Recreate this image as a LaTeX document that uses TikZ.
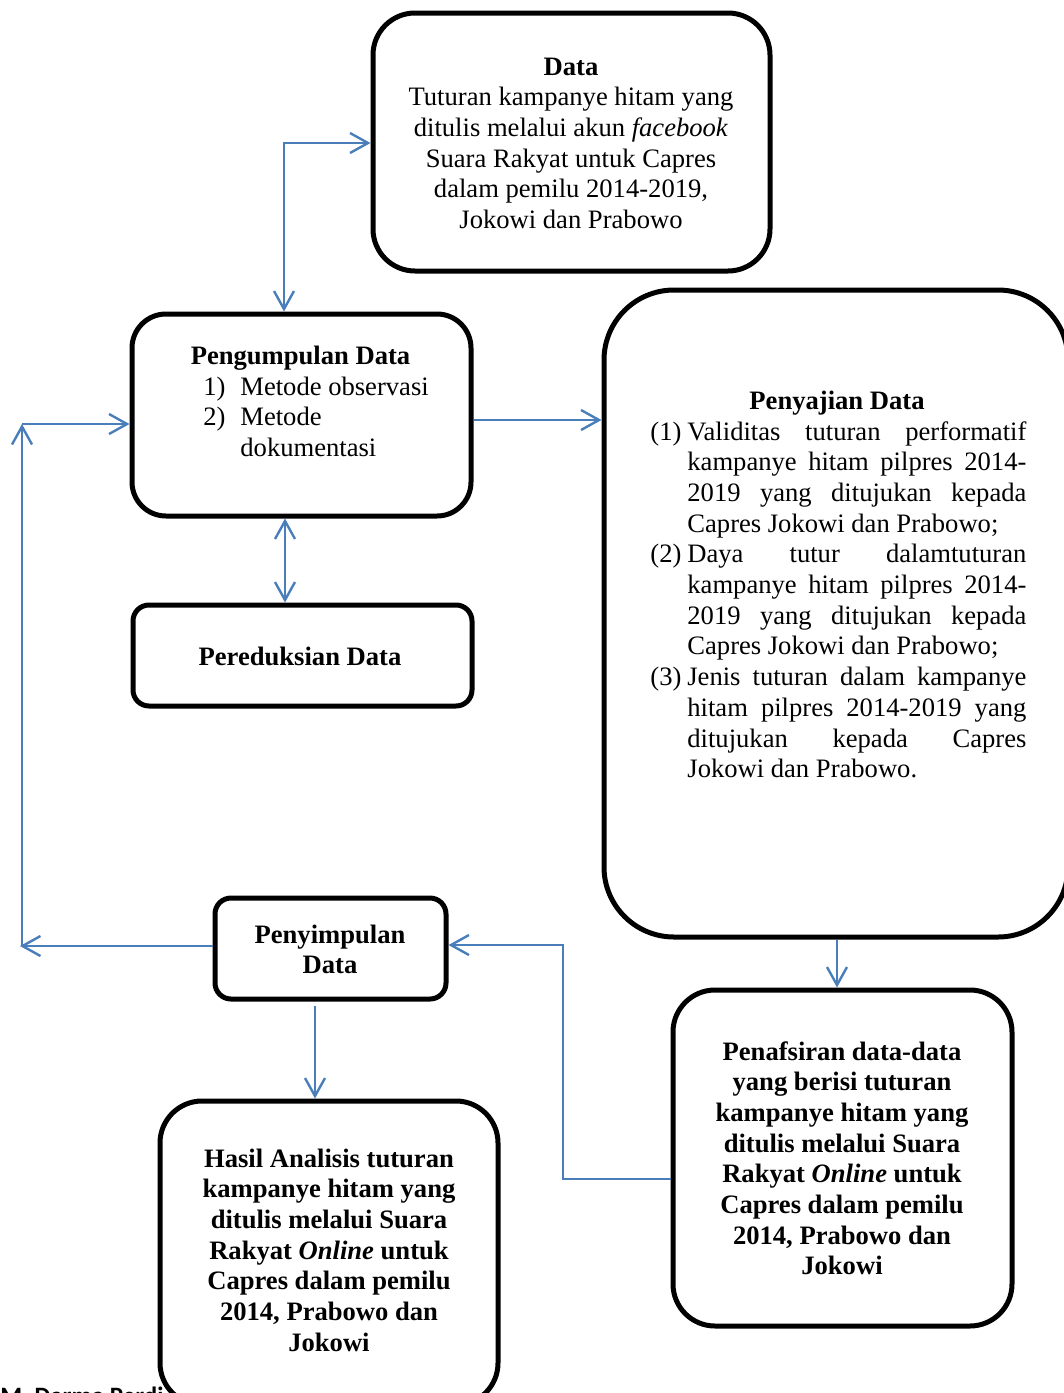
\documentclass[tikz,border=0pt]{standalone}
\usepackage{fontspec}
\setmainfont{Liberation Serif}
\newfontfamily\sansb{Carlito}
\usetikzlibrary{arrows.meta}
\definecolor{conn}{RGB}{74,126,187}
\newcommand\myfs{\fontsize{13.3}{15.35}\selectfont}
\begin{document}
\begin{tikzpicture}[x=0.5pt,y=-0.5pt,
  >={Straight Barb[length=9pt,width=10pt]},
  box/.style={draw,line width=2.5pt,fill=white,inner sep=0pt},
  lnk/.style={draw=conn,line width=1.2pt},
  txt/.style={font=\myfs,inner sep=0pt,anchor=base}]
\useasboundingbox (0,0) rectangle (1064,1393);
\clip (0,0) rectangle (1064,1393);

% bottom-left cut text (behind the Hasil box)
\node[font=\sansb\bfseries\fontsize{12.5}{15}\selectfont,anchor=base west,inner sep=0pt] (foot) at (0,1404) {M. Darma Perdi};

% boxes
\node[box,rounded corners=21pt,minimum width=198.5pt,minimum height=129pt] (data) at (571.5,142) {};
\node[box,rounded corners=17pt,minimum width=169.5pt,minimum height=101pt] (peng) at (301.5,415) {};
\node[box,rounded corners=8pt,minimum width=169.5pt,minimum height=50.5pt] (pred) at (302.5,655.5) {};
\node[box,rounded corners=35pt,minimum width=232pt,minimum height=323.5pt] (penyaj) at (836,613.5) {};
\node[box,rounded corners=8pt,minimum width=115.5pt,minimum height=50.5pt] (peny) at (330.5,948.5) {};
\node[box,rounded corners=21pt,minimum width=169.5pt,minimum height=168pt] (penaf) at (842.5,1158) {};
\node[box,rounded corners=21pt,minimum width=169pt,minimum height=152pt] (hasil) at (329,1253) {};

% texts
\node[txt] (tdata) at (571,75) {\begin{tabular}[t]{@{}c@{}}\textbf{Data}\\Tuturan kampanye hitam yang\\ditulis melalui akun \textit{facebook}\\Suara Rakyat untuk Capres\\dalam pemilu 2014-2019,\\Jokowi dan Prabowo\end{tabular}};

\node[txt] (tpeng) at (300.5,364) {\textbf{Pengumpulan Data}};
\node[txt,anchor=base west] (tpengl) at (203,395) {\begin{tabular}[t]{@{}l@{}l@{}}\makebox[18.5pt][l]{1)} & Metode observasi\\ \makebox[18.5pt][l]{2)} & Metode\\ & dokumentasi\end{tabular}};

\node[txt] (tpred) at (300,665) {\textbf{Pereduksian Data}};

\node[txt] (tpenyaj) at (837,409) {\textbf{Penyajian Data}};
\node[txt,anchor=base west] (tpenyajl) at (650,440) {\begin{tabular}[t]{@{}l@{}l@{}}
\makebox[18.5pt][l]{(1)} & \makebox[169.5pt][s]{Validitas tuturan performatif}\\
 & \makebox[169.5pt][s]{kampanye hitam pilpres 2014-}\\
 & \makebox[169.5pt][s]{2019 yang ditujukan kepada}\\
 & Capres Jokowi dan Prabowo;\\
\makebox[18.5pt][l]{(2)} & \makebox[169.5pt][s]{Daya tutur dalamtuturan}\\
 & \makebox[169.5pt][s]{kampanye hitam pilpres 2014-}\\
 & \makebox[169.5pt][s]{2019 yang ditujukan kepada}\\
 & Capres Jokowi dan Prabowo;\\
\makebox[18.5pt][l]{(3)} & \makebox[169.5pt][s]{Jenis tuturan dalam kampanye}\\
 & \makebox[169.5pt][s]{hitam pilpres 2014-2019 yang}\\
 & \makebox[169.5pt][s]{ditujukan kepada Capres}\\
 & Jokowi dan Prabowo.
\end{tabular}};

\node[txt] (tpeny) at (330,943) {\begin{tabular}[t]{@{}c@{}}\textbf{Penyimpulan}\\\textbf{Data}\end{tabular}};

\node[txt] (thasil) at (329,1167) {\bfseries\begin{tabular}[t]{@{}c@{}}Hasil Analisis tuturan\\kampanye hitam yang\\ditulis melalui Suara\\Rakyat \textit{Online} untuk\\Capres dalam pemilu\\2014, Prabowo dan\\Jokowi\end{tabular}};

\node[txt] (tpenaf) at (842,1060) {\bfseries\begin{tabular}[t]{@{}c@{}}Penafsiran data-data\\yang berisi tuturan\\kampanye hitam yang\\ditulis melalui Suara\\Rakyat \textit{Online} untuk\\Capres dalam pemilu\\2014, Prabowo dan\\Jokowi\end{tabular}};

% connectors
\coordinate (c1) at (284,143);
\draw[lnk,<->] (c1 |- peng.north) -- (c1) -- (c1 -| data.west);
\coordinate (c2) at (530,420);
\draw[lnk,->] (c2 -| peng.east) -- (c2 -| penyaj.west);
\coordinate (c3) at (285,560);
\draw[lnk,<->] (c3 |- peng.south) -- (c3 |- pred.north);
\coordinate (L1) at (20,946);
\coordinate (L2) at (22,424);
\draw[lnk,->] (L1 -| peny.west) -- (L1);
\draw[lnk,->] (L2 |- L1) -- (L2);
\draw[lnk,->] (L2) -- (L2 -| peng.west);
\coordinate (c5) at (837,960);
\draw[lnk,->] (c5 |- penyaj.south) -- (c5 |- penaf.north);
\coordinate (R1) at (563,1179);
\coordinate (R2) at (563,945);
\draw[lnk,->] (R1 -| penaf.west) -- (R1) -- (R2) -- (R2 -| peny.east);
\coordinate (c7) at (315,1050);
\draw[lnk,->,shorten <=2pt] (c7 |- peny.south) -- (c7 |- hasil.north);
\end{tikzpicture}
\end{document}
